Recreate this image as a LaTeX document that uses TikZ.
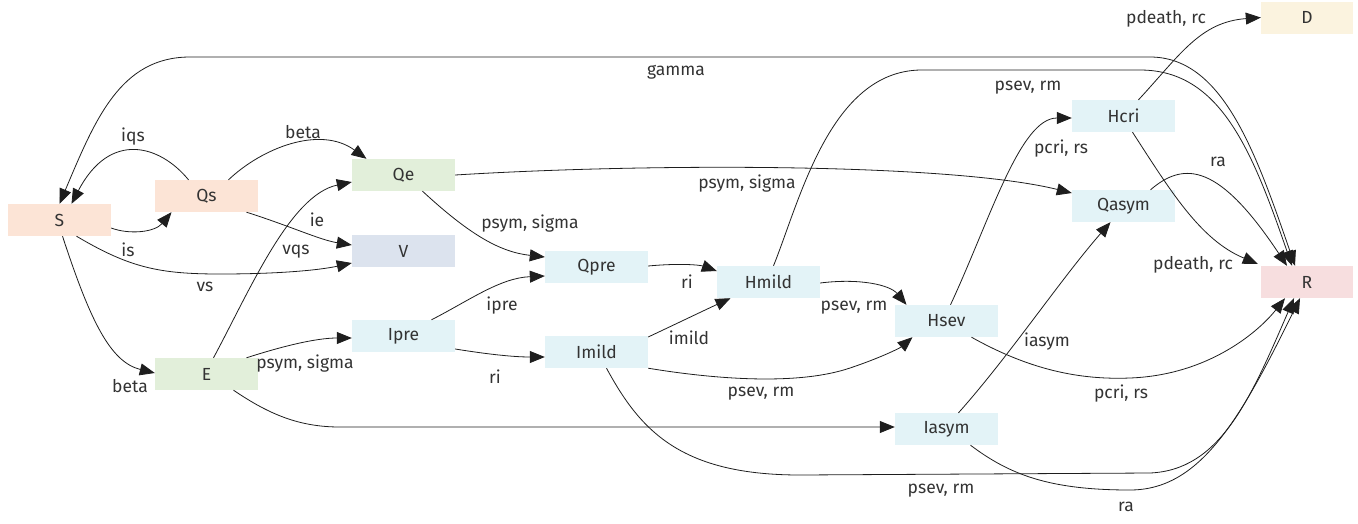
\documentclass[tikz,border=0pt]{standalone}
\usepackage{fontspec}
\setmainfont{Fira Sans}
\usetikzlibrary{arrows.meta}
\definecolor{cpeach}{HTML}{FCE4D6}
\definecolor{cgreen}{HTML}{E2EFDA}
\definecolor{cblue}{HTML}{DCE3EE}
\definecolor{ccyan}{HTML}{E3F3F7}
\definecolor{ccream}{HTML}{FBF3DF}
\definecolor{cpink}{HTML}{F7DEDF}
\definecolor{txt}{HTML}{333333}
\definecolor{ln}{HTML}{1E1E1E}
\begin{document}
\begin{tikzpicture}[x=1pt,y=-1pt,
  box/.style={rectangle, minimum width=103pt, minimum height=32pt, inner sep=0pt, text=txt, font=\fontsize{17.5}{20}\selectfont},
  nbox/.style={box, minimum width=92pt},
  lbl/.style={text=txt, inner sep=0pt, font=\fontsize{17.5}{20}\selectfont},
  conn/.style={draw=ln, line width=0.8pt, -{Triangle[length=15pt,width=12pt]}},
  bconn/.style={draw=ln, line width=0.8pt, {Triangle[length=15pt,width=12pt]}-{Triangle[length=15pt,width=12pt]}},
]
\useasboundingbox (0,0) rectangle (1358,523);
% nodes
\node[box, fill=cpeach] (S) at (59.5,220) {S};
\node[box, fill=cpeach] (Qs) at (206.5,196) {Qs};
\node[box, fill=cgreen] (Qe) at (403.5,175) {Qe};
\node[box, fill=cblue] (V) at (403.5,251) {V};
\node[box, fill=cgreen] (E) at (206.5,374) {E};
\node[box, fill=ccyan] (Ipre) at (403.5,336) {Ipre};
\node[box, fill=ccyan] (Qpre) at (596.5,267) {Qpre};
\node[box, fill=ccyan] (Imild) at (596.5,352) {Imild};
\node[box, fill=ccyan] (Hmild) at (768.5,282) {Hmild};
\node[box, fill=ccyan] (Hsev) at (946.5,321) {Hsev};
\node[box, fill=ccyan] (Iasym) at (946.5,429) {Iasym};
\node[box, fill=ccyan] (Hcri) at (1123.5,116) {Hcri};
\node[box, fill=ccyan] (Qasym) at (1123.5,206) {Qasym};
\node[nbox, fill=ccream] (D) at (1307,17.5) {D};
\node[nbox, fill=cpink] (R) at (1307,282) {R};

% connectors
\draw[bconn] (S.north) .. controls (95,120) and (120,57) .. (190,57) -- (1150,57) .. controls (1222,57) and (1255,150) .. ([xshift=-12pt]R.north);
\draw[conn] ([xshift=-18pt]Qs.north) .. controls (160,145) and (110,130) .. ([xshift=12pt]S.north);
\draw[conn] ([xshift=22pt]Qs.north) .. controls (262,148) and (320,125) .. ([xshift=-37pt]Qe.north);
\draw[conn] ([yshift=-8pt]S.east) .. controls (130,235) and (155,232) .. ([xshift=-35pt]Qs.south);
\draw[conn] ([xshift=40pt]Qs.south) .. controls (290,226) and (320,240) .. ([yshift=6pt]V.west);
\draw[conn] ([xshift=17pt]S.south) .. controls (130,268) and (160,274) .. (220,274) .. controls (280,274) and (320,270) .. ([yshift=-12pt]V.west);
\draw[conn] ([xshift=3pt]S.south) .. controls (90,320) and (110,362) .. ([yshift=1pt]E.west);
\draw[conn] ([xshift=7pt]E.north) .. controls (250,290) and (290,195) .. ([yshift=-7pt]Qe.west);
\draw[conn] ([xshift=40pt]E.north) .. controls (280,347) and (315,338) .. ([yshift=-2pt]Ipre.west);
\draw[conn] ([xshift=27pt]E.south) .. controls (270,415) and (300,427) .. (340,427) -- ([yshift=2pt]Iasym.west);
\draw[conn] ([xshift=19pt]Qe.south) .. controls (470,235) and (500,252) .. ([yshift=10pt]Qpre.west);
\draw[conn] (Qe.east) .. controls (650,163) and (950,163) .. ([yshift=13pt]Qasym.west);
\draw[conn] ([xshift=28pt]Ipre.north) .. controls (470,300) and (500,278) .. ([yshift=-9pt]Qpre.west);
\draw[conn] ([yshift=-13pt]Ipre.east) .. controls (480,353) and (510,357) .. ([yshift=-5pt]Imild.west);
\draw[conn] ([yshift=1pt]Qpre.east) .. controls (680,263) and (700,265) .. ([yshift=11pt]Hmild.west);
\draw[conn] ([yshift=15pt]Imild.east) .. controls (680,322) and (705,310) .. ([xshift=-38pt]Hmild.south);
\draw[conn] (Imild.south east) .. controls (720,380) and (800,385) .. (850,368) .. controls (880,358) and (900,348) .. ([xshift=-34pt]Hsev.south);
\draw[conn] ([xshift=10pt]Imild.south) .. controls (640,430) and (680,475) .. (800,475) -- (1150,473) .. controls (1220,470) and (1250,400) .. ([xshift=-13pt]R.south);
\draw[conn] ([yshift=-1pt]Hmild.east) .. controls (860,278) and (890,285) .. ([xshift=-40pt]Hsev.north);
\draw[conn] ([xshift=5pt]Hmild.north) .. controls (800,200) and (830,72) .. (920,70) -- (1140,70) .. controls (1220,70) and (1252,150) .. ([xshift=-15pt]R.north);
\draw[conn] ([xshift=4pt]Hsev.north) .. controls (990,220) and (1020,118) .. ([yshift=-2pt]Hcri.west);
\draw[conn] ([xshift=25pt]Hsev.south) .. controls (1030,370) and (1080,380) .. (1130,378) .. controls (1210,375) and (1260,330) .. ([xshift=-22pt]R.south);
\draw[conn] ([xshift=15pt]Hcri.north) .. controls (1180,55) and (1200,22) .. (D.west);
\draw[conn] ([xshift=9pt]Hcri.south) .. controls (1170,190) and (1200,240) .. ([xshift=-3pt,yshift=2pt]R.north west);
\draw[conn] ([xshift=27pt]Qasym.north) .. controls (1185,160) and (1220,165) .. ([xshift=-20pt]R.north);
\draw[conn] ([xshift=12pt]Iasym.north) .. controls (1010,355) and (1060,280) .. ([xshift=-13pt]Qasym.south);
\draw[conn] ([xshift=24pt]Iasym.south) .. controls (1010,475) and (1050,490) .. (1130,490) .. controls (1200,490) and (1240,420) .. ([xshift=-7pt]R.south);

% labels
\node[lbl] (l1) at (676,72) {gamma};
\node[lbl] (l2) at (133,137) {iqs};
\node[lbl] (l3) at (303,132) {beta};
\node[lbl] (l4) at (317,220) {ie};
\node[lbl] (l5) at (128,250) {is};
\node[lbl] (l6) at (296,252) {vqs};
\node[lbl] (l7) at (205,287) {vs};
\node[lbl] (l8) at (130,386) {beta};
\node[lbl] (l9) at (305,364) {psym, sigma};
\node[lbl] (l10) at (530,224) {psym, sigma};
\node[lbl] (l11) at (747,184) {psym, sigma};
\node[lbl] (l12) at (502,306) {ipre};
\node[lbl] (l13) at (495,377) {ri};
\node[lbl] (l14) at (687,282) {ri};
\node[lbl] (l15) at (689,338) {imild};
\node[lbl] (l16) at (761,394) {psev, rm};
\node[lbl] (l17) at (854,308) {psev, rm};
\node[lbl] (l18) at (941,491) {psev, rm};
\node[lbl] (l19) at (1028,88) {psev, rm};
\node[lbl] (l20) at (1061,149) {pcri, rs};
\node[lbl] (l21) at (1121,394) {pcri, rs};
\node[lbl] (l22) at (1166,19) {pdeath, rc};
\node[lbl] (l23) at (1193,265) {pdeath, rc};
\node[lbl] (l24) at (1218,162) {ra};
\node[lbl] (l25) at (1047,342) {iasym};
\node[lbl] (l26) at (1126,507) {ra};
\end{tikzpicture}
\end{document}
